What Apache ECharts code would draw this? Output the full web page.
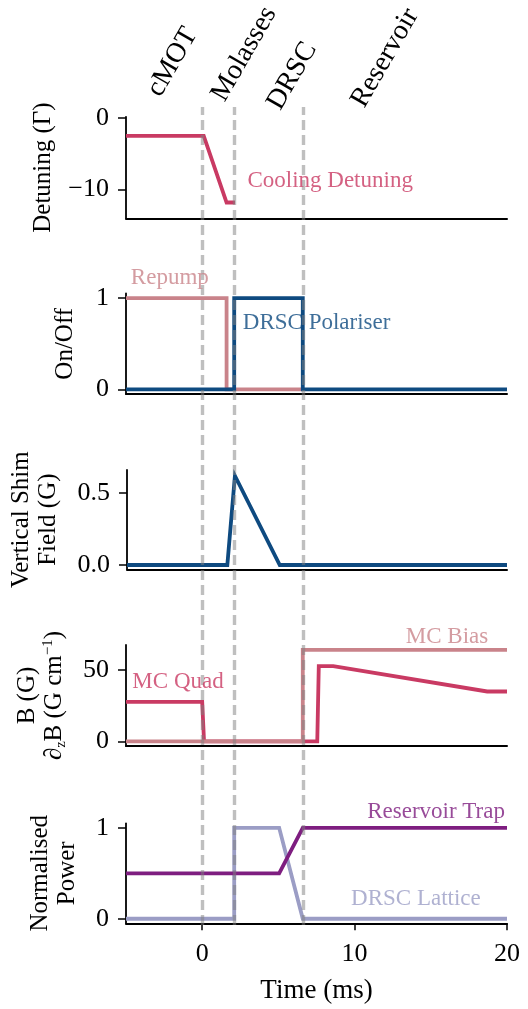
<!DOCTYPE html>
<html><head><meta charset="utf-8">
<script src="https://cdn.jsdelivr.net/npm/echarts@6/dist/echarts.min.js"></script>
<style>html,body{margin:0;padding:0;background:#fff}#c{width:528px;height:1009px}</style>
</head><body><div id="c"></div>
<script>
// ---- data ----
const phaseBoundaries = [0, 2.1, 6.6];
const phaseNames = ['cMOT', 'Molasses', 'DRSC', 'Reservoir'];

const coolingTime = [-5, 0.1, 1.6, 2.15];
const coolingDetuning = [-2.5, -2.5, -11.8, -11.8];

const repumpTime = [-5, 1.6, 1.6, 6.6];
const repumpState = [1, 1, 0, 0];
const polariserTime = [-5, 2.1, 2.1, 6.6, 6.6, 20];
const polariserState = [0, 0, 1, 1, 0, 0];

const shimTime = [-5, 1.6, 2.1, 5.05, 20];
const shimField = [0, 0, 0.62, 0, 0];

const quadTime = [-5, 0, 0.12, 7.55, 7.65, 8.6, 18.7, 20];
const quadGradient = [27.5, 27.5, 0, 0, 52.5, 52.5, 34.8, 34.8];
const biasTime = [-5, 6.6, 6.6, 20];
const biasField = [0, 0, 63.8, 63.8];

const reservoirTime = [-5, 5.05, 6.6, 20];
const reservoirPower = [0.5, 0.5, 1, 1];
const latticeTime = [-5, 2.1, 2.1, 5.05, 6.6, 20];
const latticePower = [0, 0, 1, 1, 0, 0];

const xTicks = [0, 10, 20];
const yTicks = [[-10, 0], [0, 1], [0, 0.5], [0, 50], [0, 1]];

// ---- styles ----
const FONT = '"Liberation Serif", "DejaVu Serif", serif';
const C_CRIMSON = '#c93a63';
const C_PINK = '#c9838a';
const C_BLUE = '#0e4a80';
const C_PURPLE = '#7e1e80';
const C_LAV = '#9b9dc5';

const zip = (t, v) => t.map((x, i) => [x, v[i]]);

const gridDefs = [
  {top: 116.8, height: 101.5},
  {top: 293.5, height: 100.5},
  {top: 470, height: 99.3},
  {top: 645, height: 101},
  {top: 823.3, height: 100},
  {top: 107, height: 818}
];
const grid = gridDefs.map(g => ({left: 126, right: 21, top: g.top, height: g.height, containLabel: false}));

const yRanges = [[-14, 0.15], [-0.05, 1.05], [-0.03, 0.66], [-3.2, 67.2], [-0.05, 1.05]];
const yNames = [
  'Detuning (Γ)',
  'On/Off',
  'Vertical Shim\nField (G)',
  'B (G)\n∂{sub|z}B (G cm{sup|−1})',
  'Normalised\nPower'
];
const yNameGaps = [69, 47, 65, 58, 45];
const yFormat = [v => String(v).replace('-', '−'), v => String(v), v => v.toFixed(1), v => String(v), v => String(v)];

const xAxis = [];
const yAxis = [];
for (let i = 0; i < 5; i++) {
  const last = i === 4;
  xAxis.push({
    type: 'value', gridIndex: i, min: -5, max: 20,
    axisLine: {show: true, onZero: false, lineStyle: {color: '#000', width: 2}},
    axisTick: {show: last, customValues: xTicks, length: 7, lineStyle: {color: '#000', width: 1.5}},
    axisLabel: {show: last, customValues: xTicks, margin: 18, color: '#000', fontFamily: FONT, fontSize: 26},
    splitLine: {show: false},
    name: last ? 'Time (ms)' : '', nameLocation: 'middle', nameGap: 54,
    nameTextStyle: {color: '#000', fontFamily: FONT, fontSize: 27}
  });
  yAxis.push({
    type: 'value', gridIndex: i, min: yRanges[i][0], max: yRanges[i][1],
    axisLine: {show: true, onZero: false, lineStyle: {color: '#000', width: 1.8}},
    axisTick: {show: true, customValues: yTicks[i], length: 8, lineStyle: {color: '#000', width: 1.5}},
    axisLabel: {show: true, customValues: yTicks[i], margin: 17, color: '#000', fontFamily: FONT, fontSize: 26, formatter: yFormat[i]},
    splitLine: {show: false},
    name: yNames[i], nameLocation: 'middle', nameRotate: 90, nameGap: yNameGaps[i],
    nameTextStyle: {
      color: '#000', fontFamily: FONT, fontSize: 25, lineHeight: 27,
      rich: {
        sub: {fontFamily: FONT, fontSize: 14, color: '#000', verticalAlign: 'bottom'},
        sup: {fontFamily: FONT, fontSize: 15, color: '#000', verticalAlign: 'top'}
      }
    }
  });
}
// overlay axes for phase boundaries
xAxis.push({type: 'value', gridIndex: 5, min: -5, max: 20, show: false});
yAxis.push({type: 'value', gridIndex: 5, min: 0, max: 1, show: false});

function lineSeries(i, data, color, z) {
  return {
    type: 'line', xAxisIndex: i, yAxisIndex: i, data: data,
    symbol: 'none', showSymbol: false, silent: true, z: z || 3,
    lineStyle: {color: color, width: 3.8, cap: 'butt', join: 'miter'},
    itemStyle: {color: color}, animation: false
  };
}
function textSeries(i, x, y, text, color, align) {
  return {
    type: 'scatter', xAxisIndex: i, yAxisIndex: i, data: [[x, y]],
    symbol: 'circle', symbolSize: 1, itemStyle: {color: 'rgba(0,0,0,0)'},
    clip: false, silent: true, animation: false, z: 10,
    label: {show: true, position: [0, 0], align: align || 'left', verticalAlign: 'middle',
      formatter: text, color: color, fontFamily: FONT, fontSize: 23}
  };
}

const series = [
  lineSeries(0, zip(coolingTime, coolingDetuning), C_CRIMSON),
  lineSeries(1, zip(repumpTime, repumpState), C_PINK, 3),
  lineSeries(1, zip(polariserTime, polariserState), C_BLUE, 4),
  lineSeries(2, zip(shimTime, shimField), C_BLUE),
  lineSeries(3, zip(quadTime, quadGradient), C_CRIMSON, 3),
  lineSeries(3, zip(biasTime, biasField), C_PINK, 4),
  lineSeries(4, zip(latticeTime, latticePower), C_LAV, 3),
  lineSeries(4, zip(reservoirTime, reservoirPower), C_PURPLE, 4),
  {
    type: 'line', xAxisIndex: 5, yAxisIndex: 5, data: [], silent: true, z: 8, animation: false,
    markLine: {
      symbol: 'none', silent: true, animation: false,
      label: {show: false},
      lineStyle: {type: [10, 5], color: 'rgba(128,128,128,0.5)', width: 3.4, opacity: 1},
      data: phaseBoundaries.map(b => ({xAxis: b}))
    }
  },
  textSeries(0, 3.0, -8.8, 'Cooling Detuning', C_CRIMSON),
  textSeries(1, -4.65, 1.21, 'Repump', C_PINK),
  textSeries(1, 2.7, 0.72, 'DRSC Polariser', C_BLUE),
  textSeries(3, -4.55, 41.4, 'MC Quad', C_CRIMSON),
  textSeries(3, 18.8, 72.8, 'MC Bias', C_PINK, 'right'),
  textSeries(4, 19.9, 1.17, 'Reservoir Trap', C_PURPLE, 'right'),
  textSeries(4, 9.8, 0.21, 'DRSC Lattice', C_LAV)
];

const chart = echarts.init(document.getElementById('c'), null, {renderer: 'canvas'});
chart.setOption({animation: false, backgroundColor: '#fff', grid, xAxis, yAxis, series});

// rotated phase labels, x from data coordinates
const phaseLabelX = [-1.95, 2.75, 5.9, 12.0];
const phaseLabelY = [62, 54, 76, 58];
const graphic = phaseNames.map((name, i) => ({
  type: 'text',
  x: chart.convertToPixel({xAxisIndex: 5}, phaseLabelX[i]),
  y: phaseLabelY[i],
  rotation: 60 * Math.PI / 180,
  silent: true,
  style: {text: name, fill: '#000', font: '28px ' + FONT, textAlign: 'center', textVerticalAlign: 'middle'}
}));
chart.setOption({graphic});
</script>
</body></html>
